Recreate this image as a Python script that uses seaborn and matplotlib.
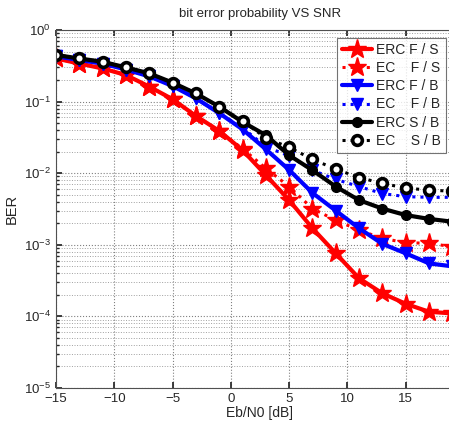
import numpy as np
import pandas as pd
import matplotlib
matplotlib.use("Agg")
import matplotlib.pyplot as plt
import seaborn as sns
from matplotlib.ticker import LogLocator, FixedLocator

# Données (BER en fonction de Eb/N0)
snr = [-15, -13, -11, -9, -7, -5, -3, -1, 1, 3, 5, 7, 9, 11, 13, 15, 17, 19]

erc_fs = [0.40, 0.34, 0.29, 0.235, 0.162, 0.108, 0.063, 0.039, 0.021, 0.0094,
          0.0042, 0.0017, 0.00076, 0.00034, 0.00021, 0.00015, 0.000116, 0.00011]
ec_fs = [0.40, 0.34, 0.29, 0.235, 0.162, 0.108, 0.063, 0.039, 0.022, 0.0117,
         0.0065, 0.0032, 0.0022, 0.0016, 0.00123, 0.00107, 0.00105, 0.00094]
erc_fb = [0.43, 0.38, 0.34, 0.28, 0.225, 0.165, 0.111, 0.069, 0.041, 0.0216,
          0.0111, 0.0053, 0.0030, 0.0017, 0.00103, 0.00076, 0.00055, 0.0005]
ec_fb = [0.43, 0.38, 0.34, 0.28, 0.225, 0.165, 0.111, 0.069, 0.043, 0.0235,
         0.0174, 0.011, 0.0082, 0.0065, 0.0052, 0.0047, 0.0046, 0.0046]
erc_sb = [0.448, 0.40, 0.36, 0.30, 0.248, 0.184, 0.13, 0.085, 0.052, 0.034,
          0.0178, 0.011, 0.0065, 0.0042, 0.0032, 0.0026, 0.0023, 0.0021]
ec_sb = [0.448, 0.40, 0.36, 0.30, 0.248, 0.184, 0.13, 0.085, 0.054, 0.031,
         0.023, 0.0156, 0.0114, 0.0087, 0.0072, 0.0062, 0.0058, 0.0056]

labels = ["ERC F / S", "EC    F / S", "ERC F / B", "EC    F / B", "ERC S / B", "EC    S / B"]
xticks = [-15, -10, -5, 0, 5, 10, 15]

sns.set_theme(style="ticks")
plt.rcParams["font.family"] = ["Liberation Sans", "DejaVu Sans"]
plt.rcParams["mathtext.fontset"] = "custom"
plt.rcParams["mathtext.rm"] = "Liberation Sans"
plt.rcParams["mathtext.it"] = "Liberation Sans"

fig = plt.figure(figsize=(4.49, 4.26), dpi=100)
ax = fig.add_axes([0.1247, 0.0892, 0.9087, 0.8404])

# (série, couleur, style, marqueur, taille, remplissage)
series = [
    (erc_fs, "#ff0000", "-", "*", 14, "#ff0000"),
    (ec_fs, "#ff0000", ":", "*", 14, "#ff0000"),
    (erc_fb, "#0000ff", "-", "v", 8.5, "#0000ff"),
    (ec_fb, "#0000ff", ":", "v", 8.5, "#0000ff"),
    (erc_sb, "#000000", "-", "o", 7, "#000000"),
    (ec_sb, "#000000", ":", "o", 7, "white"),
]

for (vals, col, ls, mk, ms, mfc), lab in zip(series, labels):
    lw = 3 if ls == "-" else 2.2
    sns.lineplot(x=snr, y=vals, ax=ax, color=col, linestyle=ls, linewidth=lw,
                 marker=mk, markersize=ms, markerfacecolor=mfc,
                 markeredgecolor=col, markeredgewidth=2.6 if mfc == "white" else 1,
                 label=lab)

ax.set_yscale("log")
ax.set_xlim(-15, 20)
ax.set_ylim(1e-5, 1)
ax.xaxis.set_major_locator(FixedLocator(xticks))
ax.yaxis.set_major_locator(LogLocator(base=10, numticks=10))
ax.yaxis.set_minor_locator(LogLocator(base=10, subs=np.arange(2, 10), numticks=10))

ax.grid(True, which="major", linestyle=":", color="#808080", linewidth=0.8)
ax.grid(True, which="minor", axis="y", linestyle=":", color="#a0a0a0", linewidth=0.7)
ax.tick_params(direction="in", which="both", labelsize=9.5, top=True, right=True,
               length=4)
ax.tick_params(which="minor", length=2)
for sp in ax.spines.values():
    sp.set_color("#505050")
    sp.set_linewidth(0.8)

ax.set_title("bit error probability VS SNR", fontsize=9.5, pad=9)
ax.set_xlabel("Eb/N0 [dB]", fontsize=10, labelpad=1)
ax.set_ylabel("BER", fontsize=10.5, labelpad=4)

leg = ax.legend(loc="upper right", bbox_to_anchor=(446 / 449, 1 - 38 / 426),
                bbox_transform=fig.transFigure, fontsize=10, frameon=True,
                fancybox=False, edgecolor="#505050", handlelength=2.2,
                handletextpad=0.3, borderpad=0.35, labelspacing=0.3,
                borderaxespad=0)
leg.get_frame().set_linewidth(0.8)

fig.savefig("out.png", dpi=100)
